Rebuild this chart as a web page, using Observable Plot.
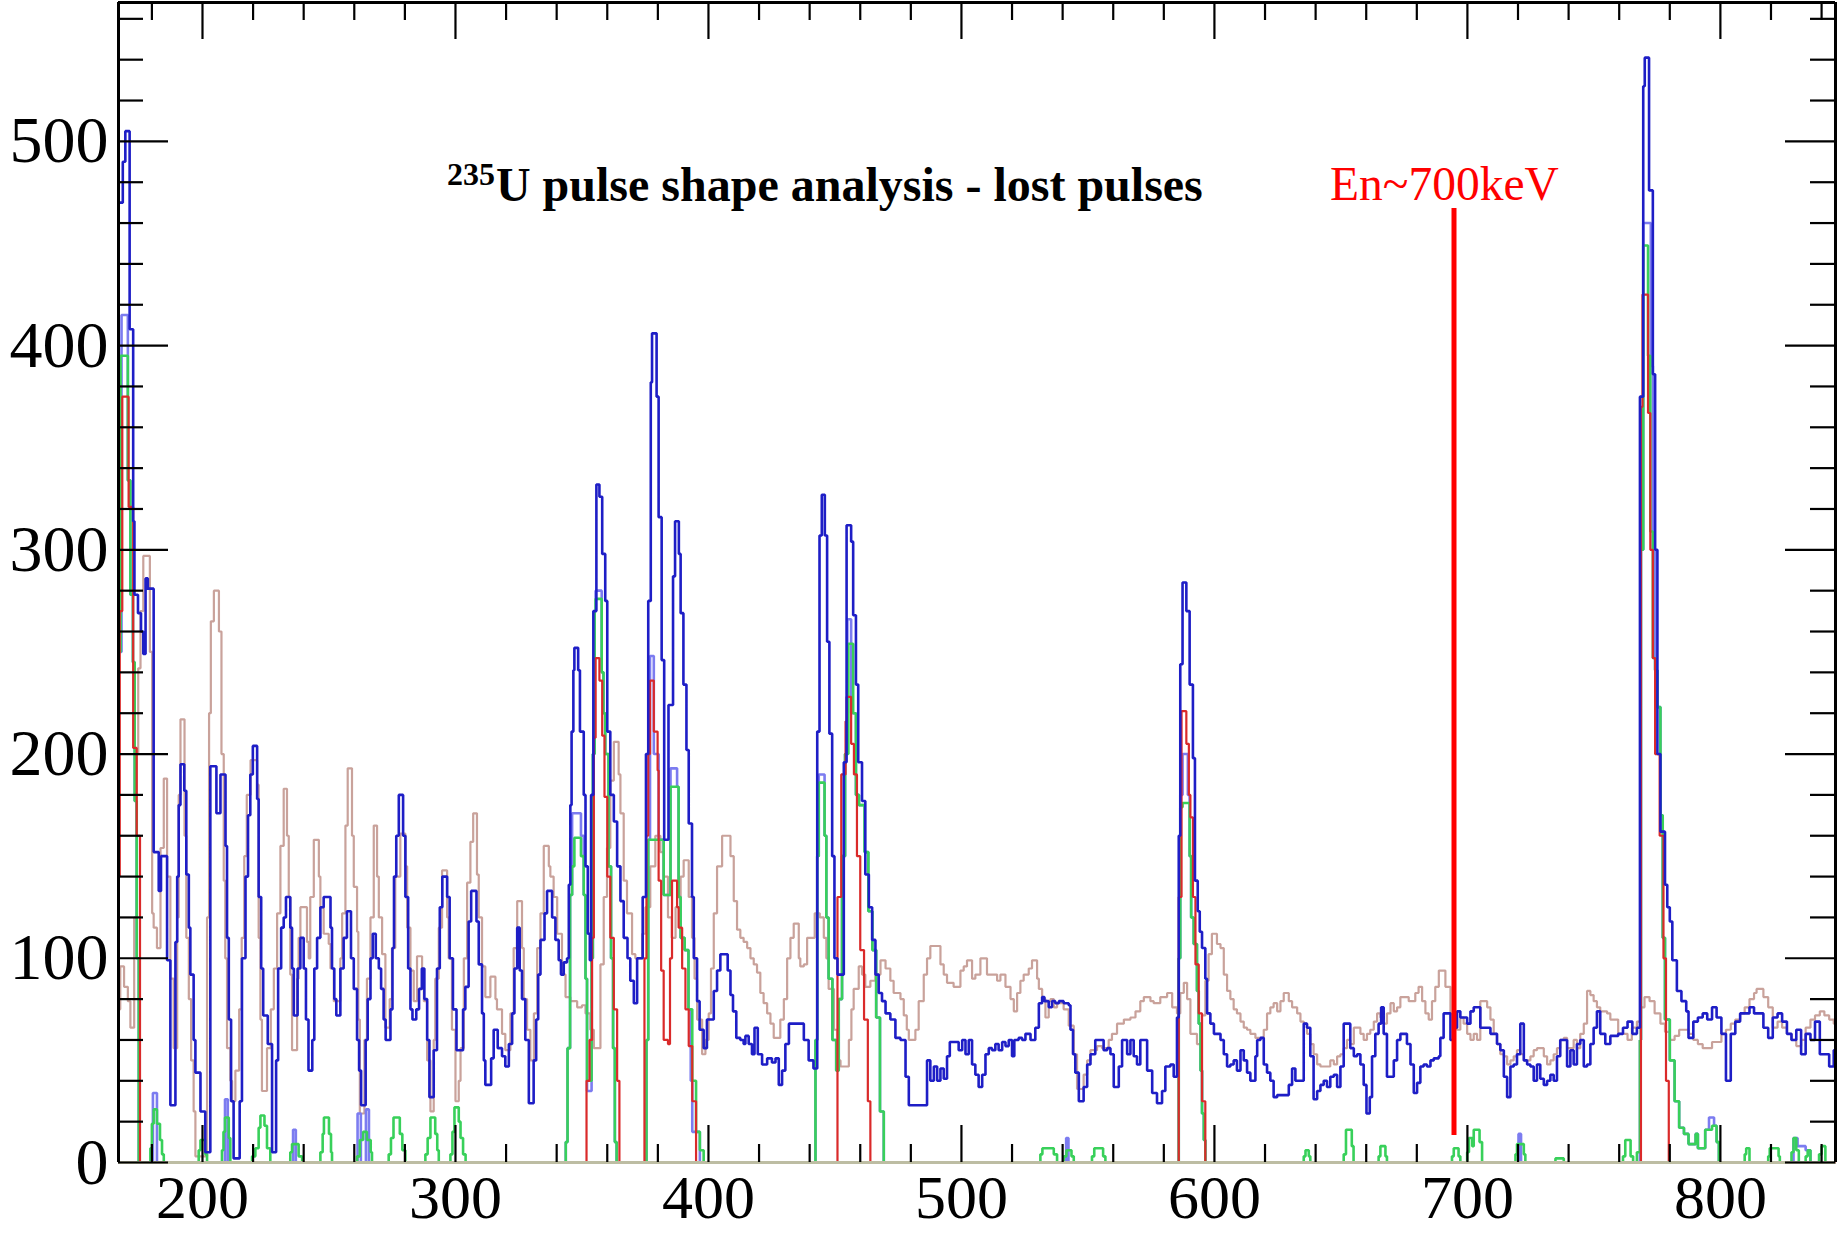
<!DOCTYPE html>
<html>
<head>
<meta charset="utf-8">
<script src="https://cdn.jsdelivr.net/npm/d3@7"></script>
<script src="https://cdn.jsdelivr.net/npm/@observablehq/plot@0.6"></script>
<style>
  html, body { margin: 0; padding: 0; background: #ffffff; }
  #chart { width: 1837px; height: 1233px; }
</style>
</head>
<body>
<div id="chart"></div>
<script>
// ---------------- axis / tick definitions ----------------
const xDomain = [166.8, 845.5];
const yDomain = [0, 568];
const xMajorTicks = [200, 300, 400, 500, 600, 700, 800];
const xMinorTicks = [180, 220, 240, 260, 280, 320, 340, 360, 380, 420, 440, 460, 480, 520, 540, 560, 580, 620, 640, 660, 680, 720, 740, 760, 780, 820, 840];
const yMajorTicks = [0, 100, 200, 300, 400, 500];
const yMinorTicks = [20, 40, 60, 80, 120, 140, 160, 180, 220, 240, 260, 280, 320, 340, 360, 380, 420, 440, 460, 480, 520, 540, 560];

// ---------------- texts ----------------
const titleSup = "235";
const titleMain = "U pulse shape analysis - lost pulses";
const titlePos = {x: 316.0, y: 471.0};
const markerLabel = "En~700keV";
const markerLabelPos = {x: 645.7, y: 471.4};
const markerLine = {x: 694.7, y1: 13.2, y2: 467.1};

// ---------------- histogram series: [bin left edge, counts] ----------------
const blueSteps = [
[166.8,470],[168.5,490],[169.5,505],[171.2,408],[172.6,314],[173.1,278],[174.5,269],[175.7,260],[176.6,249],[177.5,286],[178.4,281],
[180.7,152],[182.7,133],[183.6,150],[186.0,99],[187.3,28],[189.3,108],[190.0,140],[190.6,175],[191.3,195],[192.8,182],[193.6,141],
[194.6,115],[195.2,92],[196.5,60],[197.2,44],[199.2,25],[201.1,5],[203.1,194],[205.5,171],[207.1,190],[209.1,155],[209.7,110],
[210.4,70],[211.3,30],[212.3,2],[214.7,30],[215.6,100],[217.0,140],[218.0,170],[218.9,190],[219.9,204],[221.6,178],[222.2,130],
[223.2,95],[224.0,72],[225.8,58],[227.5,5],[229.1,50],[229.9,95],[231.1,115],[232.1,120],[233.0,130],[234.7,115],[235.4,95],
[236.1,72],[237.6,95],[238.7,110],[240.0,95],[240.9,70],[241.9,45],[243.4,60],[244.2,95],[245.3,110],[246.6,125],[247.9,130],
[250.6,115],[251.2,95],[252.1,80],[252.9,72],[254.5,95],[255.8,110],[257.1,123],[258.7,100],[259.8,85],[261.1,60],[261.9,45],
[262.7,28],[264.5,60],[265.3,80],[266.4,100],[267.3,112],[268.5,100],[269.7,95],[270.6,85],[271.6,70],[272.4,60],[274.3,75],
[275.1,105],[275.7,140],[276.6,160],[277.6,180],[279.3,160],[280.2,130],[281.3,95],[282.2,75],[283.0,70],[284.5,75],[285.6,85],
[286.7,95],[287.7,80],[288.8,60],[289.7,32],[291.4,55],[292.7,95],[293.8,125],[294.8,140],[296.7,130],[297.7,100],[299.0,75],
[300.4,55],[303.0,75],[303.9,86],[305.2,118],[306.2,133],[308.3,118],[309.2,97],[310.5,73],[311.2,50],[311.8,38],[314.1,51],
[315.1,65],[316.7,56],[318.4,52],[319.7,47],[321.1,58],[322.4,73],[323.3,95],[324.4,115],[325.4,94],[326.3,80],[327.6,60],
[329.0,29],[330.9,50],[331.9,70],[332.7,92],[333.6,109],[335.2,122],[336.2,133],[338.2,120],[339.5,109],[340.8,99],[341.7,92],
[342.8,98],[344.1,100],[344.8,136],[345.4,175],[345.9,211],[346.6,241],[347.0,252],[348.5,241],[349.2,211],[350.7,180],[351.4,145],
[352.3,112],[353.1,99],[353.6,180],[354.5,270],[355.7,332],[356.9,326],[358.0,298],[359.2,275],[360.0,211],[361.2,180],[362.6,167],
[363.9,145],[365.2,128],[366.5,110],[368.0,100],[369.1,89],[370.5,78],[371.8,100],[374.0,130],[375.3,200],[376.2,275],[377.2,382],
[377.7,406],[379.5,375],[380.3,316],[381.5,246],[382.5,158],[384.2,224],[386.0,287],[386.8,314],[388.3,298],[389.0,269],[390.1,234],
[391.3,202],[392.2,166],[393.5,130],[394.2,100],[395.5,79],[396.5,65],[398.1,56],[399.4,70],[402.1,84],[403.4,94],[404.7,102],
[407.6,94],[408.7,82],[409.7,74],[411.0,61],[412.6,60],[413.9,58],[414.6,62],[415.9,58],[417.2,53],[418.2,66],[419.5,53],
[421.2,48],[423.2,51],[425.1,49],[426.5,51],[427.8,38],[429.1,45],[430.4,58],[431.8,68],[437.7,60],[439.6,50],[441.5,46],
[443.0,211],[443.9,307],[444.8,327],[446.0,307],[446.9,255],[447.8,210],[448.9,150],[449.8,100],[451.0,92],[453.5,196],[454.6,312],
[456.4,304],[457.2,268],[458.3,234],[459.2,196],[460.7,177],[462.0,141],[463.4,125],[464.7,109],[466.0,92],[467.3,83],[468.6,79],
[470.0,73],[471.9,70],[473.9,61],[475.9,60],[477.9,42],[479.2,28],[486.4,50],[487.7,40],[489.1,47],[490.4,40],[491.7,46],
[493.0,41],[494.3,52],[495.4,59],[498.9,55],[500.3,60],[501.6,53],[502.9,60],[504.2,48],[505.5,43],[506.8,37],[508.2,43],
[509.5,53],[510.8,56],[512.1,55],[513.4,58],[514.7,55],[516.1,59],[517.4,57],[518.7,60],[520.0,52],[520.9,60],[522.6,61],
[524.0,60],[525.3,63],[527.3,60],[529.2,66],[530.6,78],[531.9,81],[532.8,79],[534.5,76],[535.8,79],[537.1,78],[538.5,79],
[540.4,78],[542.4,77],[543.1,65],[544.1,53],[545.0,44],[546.4,30],[548.3,37],[549.7,48],[551.0,53],[552.9,60],[556.2,55],
[557.6,56],[558.9,53],[560.2,37],[562.2,47],[563.5,60],[565.5,53],[566.8,60],[568.1,52],[569.4,48],[570.7,60],[573.4,45],
[575.4,34],[577.3,29],[579.3,35],[580.6,47],[582.6,48],[583.9,42],[585.2,71],[585.9,160],[586.5,244],[587.4,284],[588.9,270],
[590.2,234],[591.5,198],[592.3,138],[593.4,123],[594.2,113],[595.1,105],[596.4,90],[597.1,73],[598.4,68],[599.8,63],[602.4,60],
[603.7,53],[605.0,47],[606.3,48],[607.6,50],[608.9,45],[610.3,55],[611.6,50],[612.9,44],[614.2,40],[616.2,52],[616.9,60],
[618.2,61],[619.5,48],[620.8,44],[622.1,40],[623.4,32],[624.8,33],[629.4,38],[630.7,46],[632.0,40],[635.3,68],[636.6,66],
[637.9,52],[639.2,31],[640.6,35],[641.9,38],[643.2,40],[644.5,37],[645.8,42],[647.2,43],[648.5,37],[649.8,47],[651.1,68],
[653.7,56],[655.1,52],[656.4,53],[657.7,48],[659.0,38],[660.1,24],[661.4,32],[662.3,52],[663.6,63],[664.9,68],[665.9,76],
[666.9,63],[668.2,42],[670.9,50],[672.2,60],[673.5,63],[676.1,58],[677.5,48],[678.8,34],[680.1,39],[681.4,47],[682.7,48],
[684.0,47],[685.4,50],[686.7,51],[688.7,52],[689.3,61],[690.6,73],[693.3,60],[694.6,66],[695.9,74],[697.2,71],[699.9,68],
[701.2,74],[702.5,76],[705.1,66],[709.1,63],[711.7,58],[713.0,55],[714.4,42],[715.7,32],[717.0,47],[718.3,48],[719.6,53],
[720.9,68],[722.3,50],[723.6,48],[724.9,47],[726.2,40],[727.5,48],[728.8,41],[730.2,38],[731.5,40],[732.8,43],[734.1,40],
[735.4,52],[736.7,60],[739.4,47],[740.7,55],[742.0,48],[743.3,58],[744.6,60],[746.0,47],[747.3,48],[748.6,58],[749.9,66],
[751.2,74],[752.5,63],[754.5,58],[756.5,62],[759.6,63],[761.5,66],[763.3,69],[765.2,63],[767.0,66],[768.2,375],[769.5,527],
[770.1,541],[771.8,476],[773.3,386],[774.2,300],[775.1,200],[776.3,162],[778.1,136],[779.0,125],[780.0,118],[781.0,99],[782.8,84],
[784.6,79],[786.5,74],[787.4,61],[789.3,69],[791.1,71],[793.0,73],[794.8,70],[796.7,76],[798.5,71],[800.4,63],[802.2,40],
[804.1,63],[805.9,69],[807.8,73],[811.5,76],[813.3,73],[817.0,66],[818.9,61],[820.7,71],[822.6,73],[824.4,69],[826.3,63],
[828.1,60],[830.0,65],[831.9,53],[833.7,63],[835.6,60],[837.4,69],[839.3,53],[843.0,47],[844.8,55]
];

const tanSteps = [
[166.8,75],[167.5,96],[169.0,86],[170.5,79],[171.5,66],[173.0,120],[174.0,200],[174.6,242],[175.5,270],[176.6,297],[179.2,250],
[180.1,122],[180.7,115],[182.0,105],[183.4,154],[184.7,188],[186.0,140],[187.3,90],[188.6,56],[190.0,120],[190.6,180],[191.3,217],
[192.9,160],[193.6,110],[194.6,80],[195.5,50],[196.5,25],[197.2,3],[201.8,120],[202.6,220],[203.3,265],[204.5,280],[206.5,260],
[207.5,200],[208.4,138],[209.0,100],[209.7,56],[211.0,40],[211.7,30],[213.0,45],[214.5,75],[215.5,110],[216.5,150],[217.5,180],
[219.0,197],[221.6,185],[222.2,110],[222.9,70],[223.5,35],[225.5,56],[227.0,75],[228.2,95],[229.5,122],[230.8,155],[232.1,183],
[233.4,160],[234.1,130],[234.7,92],[235.4,55],[237.4,90],[238.0,110],[238.7,125],[241.3,108],[242.0,100],[242.6,130],[244.0,158],
[246.0,140],[246.6,125],[247.9,112],[249.9,107],[250.6,95],[251.9,79],[254.5,100],[255.2,122],[256.5,165],[257.4,193],[259.1,160],
[259.8,135],[261.1,113],[261.6,70],[262.2,24],[264.0,60],[265.0,90],[266.4,120],[267.7,165],[269.0,140],[269.7,120],[271.0,102],
[272.3,66],[274.0,80],[274.9,105],[276.2,140],[278.2,161],[280.2,145],[280.9,115],[282.2,94],[283.5,79],[284.8,101],[286.8,85],
[287.5,79],[288.8,50],[290.1,25],[291.4,60],[292.0,90],[293.4,115],[294.7,143],[296.7,120],[297.3,100],[298.6,65],[300.0,30],
[301.3,40],[302.0,56],[303.3,100],[304.6,137],[305.9,157],[307.0,171],[308.5,141],[309.2,120],[310.5,96],[311.8,81],[313.8,91],
[315.8,80],[316.4,75],[318.4,63],[319.7,55],[321.7,73],[323.0,105],[324.4,128],[326.3,105],[327.0,80],[328.3,65],[329.6,50],
[331.0,73],[332.3,105],[333.6,122],[334.9,155],[336.9,145],[337.5,140],[338.8,130],[340.2,112],[342.1,92],[343.5,81],[345.4,79],
[348.1,76],[350.0,77],[351.4,73],[353.3,65],[354.7,56],[357.3,97],[358.6,130],[359.9,154],[361.2,187],[362.6,206],[364.5,190],
[365.2,171],[366.5,138],[367.8,122],[369.8,102],[371.1,100],[373.8,112],[375.1,125],[377.0,145],[379.0,160],[381.0,152],[382.3,140],
[384.0,120],[385.5,110],[387.0,125],[389.0,140],[390.2,148],[392.2,130],[393.5,110],[394.5,90],[395.5,70],[397.5,53],[398.8,60],
[400.1,73],[401.0,95],[402.1,122],[403.4,145],[405.4,160],[408.7,150],[410.0,128],[411.3,114],[412.6,110],[413.9,108],[415.3,105],
[416.6,100],[417.9,97],[419.2,93],[420.5,83],[421.8,78],[423.2,73],[424.5,68],[425.8,61],[428.4,70],[429.8,80],[431.1,100],
[432.4,110],[433.7,117],[435.7,100],[436.3,96],[437.7,97],[439.0,110],[442.0,122],[444.0,120],[445.6,110],[446.6,100],[447.5,85],
[449.6,65],[451.0,50],[452.2,47],[455.5,60],[456.5,75],[457.4,85],[459.4,96],[460.7,92],[462.0,86],[464.0,89],[466.0,92],
[468.0,99],[470.0,95],[471.9,89],[473.2,83],[475.9,80],[477.2,72],[478.4,65],[479.2,60],[481.8,65],[483.1,79],[485.1,92],
[486.4,100],[487.7,106],[491.7,97],[493.0,92],[494.3,88],[496.9,86],[499.6,94],[500.9,96],[502.2,99],[504.2,90],[505.5,92],
[507.5,100],[510.1,92],[511.4,92],[514.1,89],[515.4,92],[517.4,86],[519.4,80],[520.7,74],[522.0,83],[523.3,89],[524.6,92],
[526.6,95],[527.9,99],[529.9,90],[530.6,85],[531.9,80],[533.2,71],[534.5,79],[535.2,80],[536.5,76],[537.8,78],[540.4,75],
[542.4,67],[544.4,53],[545.7,36],[548.3,43],[549.7,50],[551.0,55],[553.6,57],[555.6,56],[558.2,60],[559.5,63],[561.5,68],
[564.2,70],[566.8,71],[568.8,74],[570.7,79],[572.1,81],[574.7,79],[576.0,78],[578.6,81],[581.3,83],[583.3,76],[585.2,73],
[586.5,83],[587.9,88],[589.2,80],[590.5,63],[593.1,58],[595.0,72],[596.4,89],[597.7,102],[599.0,112],[601.0,107],[602.4,105],
[603.7,92],[605.0,84],[606.3,80],[607.6,75],[608.9,73],[610.3,69],[611.6,66],[612.9,65],[614.2,63],[616.2,61],[619.5,65],
[620.8,73],[622.1,76],[623.4,78],[624.8,74],[626.1,79],[627.4,83],[629.4,79],[630.7,76],[632.7,73],[634.0,69],[635.3,68],
[636.6,63],[637.9,58],[639.2,53],[640.6,48],[641.9,47],[645.8,50],[647.2,48],[648.5,52],[649.8,53],[651.1,56],[652.4,60],
[653.7,58],[655.1,66],[657.7,63],[659.0,60],[660.3,63],[661.6,65],[663.0,69],[664.3,73],[665.6,71],[666.9,68],[668.2,73],
[669.6,78],[670.9,74],[672.2,76],[673.5,81],[676.8,79],[679.4,83],[680.7,86],[682.1,79],[683.4,73],[684.7,70],[686.0,79],
[687.3,86],[688.7,94],[691.3,86],[693.3,73],[694.6,70],[695.9,65],[697.2,71],[698.5,68],[699.9,63],[701.2,60],[702.5,63],
[703.8,60],[705.1,79],[707.8,76],[709.1,70],[710.4,63],[711.7,58],[713.0,53],[714.4,52],[715.7,48],[717.0,50],[718.3,52],
[719.6,55],[720.9,53],[722.3,50],[724.9,52],[726.2,55],[727.5,56],[730.2,52],[731.5,48],[732.8,50],[734.1,53],[735.4,56],
[736.7,60],[738.1,61],[739.4,56],[742.0,60],[743.3,56],[744.6,63],[746.0,68],[747.3,84],[748.6,82],[749.9,79],[751.2,76],
[752.5,74],[755.2,73],[756.5,70],[759.6,63],[763.3,60],[765.0,66],[767.0,69],[768.5,76],[770.0,81],[772.0,79],[774.0,73],
[776.3,68],[778.1,64],[780.0,60],[781.9,62],[783.7,65],[787.4,63],[789.3,60],[791.1,58],[793.0,56],[796.7,59],[800.4,63],
[802.2,65],[804.1,68],[805.9,70],[807.8,73],[809.6,76],[811.5,80],[813.3,83],[814.3,85],[817.0,81],[818.9,76],[820.7,66],
[822.6,69],[824.4,66],[826.3,63],[828.1,60],[830.0,57],[831.9,60],[833.7,66],[835.6,70],[837.4,72],[839.3,74],[841.1,72],
[843.0,70],[844.8,68]
];

const lightBlueSteps = [
[166.8,250],[168.0,415],[170.5,334],[171.5,278],[172.5,245],[173.2,177],[174.0,100],[174.8,0],
[180.4,34],[182.0,0],[208.9,31],[210.0,0],[235.8,16],[236.9,0],[261.3,24],[262.6,0],[264.6,26],[265.8,0],
[343.6,10],[344.3,56],[345.3,131],[346.1,171],[349.6,160],[350.7,131],[351.4,90],[352.0,35],[353.8,100],[354.3,200],[355.0,270],
[355.4,280],[357.8,240],[358.5,220],[359.2,200],[360.5,145],[361.5,100],[362.3,56],[363.0,10],[363.7,0],
[375.5,60],[376.2,158],[376.9,248],[378.4,200],[380.3,158],[382.3,131],[385.0,193],[387.6,184],[388.2,130],[389.0,110],[390.6,104],
[392.1,75],[393.0,40],[393.6,15],[396.6,0],
[441.5,0],[442.3,60],[443.0,150],[443.6,190],[445.9,160],[446.6,120],[447.5,90],[449.0,60],[450.5,45],[451.5,80],[452.8,150],
[454.0,200],[454.9,266],[456.4,220],[458.3,180],[459.5,175],[461.7,152],[463.2,123],[464.8,104],[466.3,71],[467.8,25],[469.3,0],
[541.4,12],[542.3,0],
[585.2,0],[585.9,100],[586.5,180],[587.4,200],[589.5,180],[590.2,150],[590.8,120],[591.8,107],[593.1,84],[593.8,68],[594.5,45],
[595.1,24],[595.8,11],[596.4,0],
[720.2,14],[721.2,0],
[768.2,60],[768.6,300],[769.5,460],[772.5,390],[773.3,300],[774.2,241],[775.1,223],[776.3,170],[777.2,110],[778.1,70],[780.0,50],
[781.9,30],[783.7,17],[785.6,14],[787.4,9],[790.2,14],[791.1,7],[794.0,16],[795.5,22],[797.5,18],[798.5,10],[799.4,0],
[828.9,12],[830.5,8],[833.7,6],[835.6,0]
];

const greenSteps = [
[166.8,250],[167.6,395],[170.5,334],[171.5,278],[172.5,245],[173.2,177],[174.0,100],[174.8,0],
[179.4,7],[180.0,19],[180.7,26],[182.0,19],[183.2,11],[184.0,4],[184.7,0],
[198.5,6],[199.2,11],[201.1,4],[201.8,0],
[207.7,6],[208.3,15],[208.9,22],[210.4,12],[211.0,0],
[219.6,3],[220.9,7],[222.2,17],[222.9,23],[224.5,18],[225.5,7],[226.8,0],
[234.7,5],[235.4,9],[238.0,3],[239.4,0],
[246.6,5],[247.5,14],[248.0,22],[250.0,14],[250.8,5],[251.2,0],
[261.1,3],[262.2,11],[263.5,15],[265.0,11],[266.5,5],[267.0,0],
[273.6,4],[274.5,12],[275.5,22],[278.0,14],[279.0,6],[280.2,0],
[288.1,4],[289.0,12],[290.1,22],[292.0,14],[292.8,6],[293.4,0],
[298.0,4],[298.8,15],[299.6,27],[301.3,20],[302.0,12],[303.0,4],[304.0,0],
[343.6,10],[344.3,56],[345.3,131],[346.1,145],[347.0,159],[349.6,150],[350.7,131],[351.4,90],[352.0,40],[353.8,100],[354.3,200],
[355.0,270],[355.4,276],[357.8,240],[358.5,220],[359.2,200],[360.5,145],[361.5,100],[362.3,56],[363.0,10],[363.7,0],
[375.5,60],[376.2,158],[382.3,131],[385.0,184],[388.2,130],[389.0,110],[390.6,104],[392.1,75],[393.6,40],[395.1,15],[396.6,6],[398.1,0],
[441.5,0],[442.3,60],[443.0,150],[443.6,186],[445.9,160],[446.6,120],[447.5,90],[449.0,60],[450.5,45],[451.5,80],[452.8,150],
[454.0,200],[455.3,254],[457.2,220],[458.3,180],[459.5,175],[461.7,152],[463.2,123],[464.8,104],[466.3,71],[467.8,25],[469.3,0],
[531.2,4],[532.0,7],[536.5,4],[537.8,0],[540.4,3],[541.5,6],[543.5,3],[544.4,0],[551.6,3],[552.5,7],[556.0,3],[556.9,0],
[585.2,0],[585.9,100],[586.5,174],[587.4,176],[590.2,150],[590.8,120],[591.8,107],[593.1,84],[593.8,68],[594.5,45],[595.1,24],
[595.8,11],[596.4,0],
[635.3,3],[636.0,6],[637.3,3],[637.9,0],[651.1,4],[652.0,16],[654.3,8],[655.0,0],[664.9,3],[665.6,8],[667.6,3],[668.2,0],
[693.9,3],[694.6,7],[696.5,3],[697.2,0],[699.9,5],[700.6,12],[701.9,8],[702.5,16],[704.8,10],[705.8,0],
[719.0,4],[719.6,9],[722.3,4],[722.9,0],[734.8,2],[738.1,0],
[761.5,3],[762.4,11],[764.5,3],[765.5,0],
[767.0,5],[768.2,60],[768.6,300],[769.5,449],[771.4,395],[772.3,309],[773.3,247],[774.2,241],[775.1,223],[776.3,170],[777.2,110],
[778.1,70],[780.0,50],[781.9,30],[783.7,17],[785.6,14],[787.4,9],[790.2,14],[791.1,7],[794.0,16],[796.7,18],[798.5,10],[799.4,0],
[809.6,4],[810.2,7],[811.5,0],[818.9,3],[819.5,7],[823.0,3],[823.5,0],[828.1,5],[828.9,12],[830.0,6],[831.0,0],
[833.7,3],[834.5,6],[835.6,0],[839.0,4],[840.0,8],[841.5,0]
];

const redSteps = [
[166.8,140],[167.3,270],[168.3,375],[170.8,321],[172.6,203],[174.0,160],[175.3,0],
[351.8,40],[353.0,60],[354.0,110],[354.7,208],[355.4,247],[356.9,236],[358.0,209],[358.9,179],[360.0,140],[361.2,110],[362.6,75],
[363.9,40],[364.8,0],
[374.7,100],[375.5,160],[376.2,200],[376.9,236],[378.4,211],[379.9,192],[380.3,138],[381.3,94],[382.3,60],[384.0,58],[384.8,100],
[385.6,138],[387.6,125],[388.2,115],[389.6,95],[390.9,75],[392.2,57],[393.6,30],[395.1,0],
[451.0,130],[452.5,190],[454.2,216],[454.6,228],[456.4,205],[457.5,190],[458.7,150],[460.0,104],[461.5,70],[463.0,30],[464.0,0],
[585.9,130],[587.0,221],[588.9,205],[589.9,180],[590.5,169],[591.5,130],[592.5,97],[593.8,73],[595.1,30],[596.4,0],
[768.6,370],[769.2,425],[771.4,367],[772.3,300],[773.3,247],[774.2,200],[776.0,160],[777.5,100],[778.5,40],[779.6,0]
];

// ---------------- build & draw ----------------
function stepsToPoints(steps, xEnd) {
  const pts = steps.map(([x, y]) => ({x, y}));
  pts.push({x: xEnd, y: steps[steps.length - 1][1]});
  return pts;
}
const xEnd = xDomain[1];
const W = 1837, H = 1233;
const mL = 118, mR = 2, mT = 2, mB = 71;
const innerW = W - mL - mR, innerH = H - mT - mB;

const serif = "'Liberation Serif', 'Times New Roman', Times, serif";
const lineOpts = {x: "x", y: "y", curve: "step-after", strokeLinejoin: "miter", strokeLinecap: "butt"};

const chart = Plot.plot({
  width: W, height: H,
  marginLeft: mL, marginRight: mR, marginTop: mT, marginBottom: mB,
  x: {domain: xDomain, label: null},
  y: {domain: yDomain, label: null},
  style: {fontFamily: serif, fontSize: "66px", background: "#ffffff", color: "#000000"},
  marks: [
    Plot.line(stepsToPoints(tanSteps, xEnd), {...lineOpts, stroke: "#c9a29b", strokeWidth: 2.2}),
    Plot.line(stepsToPoints(lightBlueSteps, xEnd), {...lineOpts, stroke: "#7c7cf0", strokeWidth: 2.6}),
    Plot.line(stepsToPoints(greenSteps, xEnd), {...lineOpts, stroke: "#38d05a", strokeWidth: 2.6}),
    Plot.line(stepsToPoints(redSteps, xEnd), {...lineOpts, stroke: "#da2a2a", strokeWidth: 2.2}),
    Plot.line(stepsToPoints(blueSteps, xEnd), {...lineOpts, stroke: "#1e1ec6", strokeWidth: 2.6}),
    // baseline (bottom of frame, drawn over the histograms)
    Plot.ruleY([yDomain[0]], {stroke: "#bdbda3", strokeWidth: 3}),
    // frame left/right/top
    Plot.ruleX([xDomain[0], xDomain[1]], {stroke: "#000000", strokeWidth: 3}),
    Plot.ruleY([yDomain[1]], {stroke: "#000000", strokeWidth: 3}),
    // left ticks
    Plot.tickY(yMajorTicks, {y: d => d, insetRight: innerW - 50, stroke: "#000", strokeWidth: 2.2}),
    Plot.tickY(yMinorTicks, {y: d => d, insetRight: innerW - 25, stroke: "#000", strokeWidth: 2.2}),
    // right ticks
    Plot.tickY(yMajorTicks, {y: d => d, insetLeft: innerW - 50, stroke: "#000", strokeWidth: 2.2}),
    Plot.tickY(yMinorTicks, {y: d => d, insetLeft: innerW - 25, stroke: "#000", strokeWidth: 2.2}),
    // bottom ticks
    Plot.tickX(xMajorTicks, {x: d => d, insetTop: innerH - 37, stroke: "#000", strokeWidth: 2.2}),
    Plot.tickX(xMinorTicks, {x: d => d, insetTop: innerH - 18, stroke: "#000", strokeWidth: 2.2}),
    // top ticks
    Plot.tickX(xMajorTicks, {x: d => d, insetBottom: innerH - 37, stroke: "#000", strokeWidth: 2.2}),
    Plot.tickX(xMinorTicks, {x: d => d, insetBottom: innerH - 18, stroke: "#000", strokeWidth: 2.2}),
    // tick labels
    Plot.axisX({ticks: xMajorTicks, tickSize: 0, tickPadding: 11, tickFormat: d => String(d), label: null, fontSize: 62, fill: "#000"}),
    Plot.axisY({ticks: yMajorTicks, tickSize: 0, tickPadding: 10, tickFormat: d => String(d), label: null, fontSize: 66, fill: "#000"}),
    // energy marker
    Plot.ruleX([markerLine], {x: "x", y1: "y1", y2: "y2", stroke: "#ff0000", strokeWidth: 5}),
    Plot.text([markerLabelPos], {x: "x", y: "y", text: () => markerLabel, textAnchor: "start", lineAnchor: "bottom", fontSize: 47.5, fill: "#ff0000", fontFamily: serif}),
    // title
    Plot.text([titlePos], {x: "x", y: "y", text: () => titleMain, textAnchor: "start", lineAnchor: "bottom", fontSize: 48, fontWeight: "bold", fill: "#000", fontFamily: serif}),
    Plot.text([titlePos], {x: "x", y: "y", text: () => titleSup, textAnchor: "end", lineAnchor: "bottom", dx: -1, dy: -16, fontSize: 32, fontWeight: "bold", fill: "#000", fontFamily: serif})
  ]
});
document.getElementById("chart").appendChild(chart);
</script>
</body>
</html>
